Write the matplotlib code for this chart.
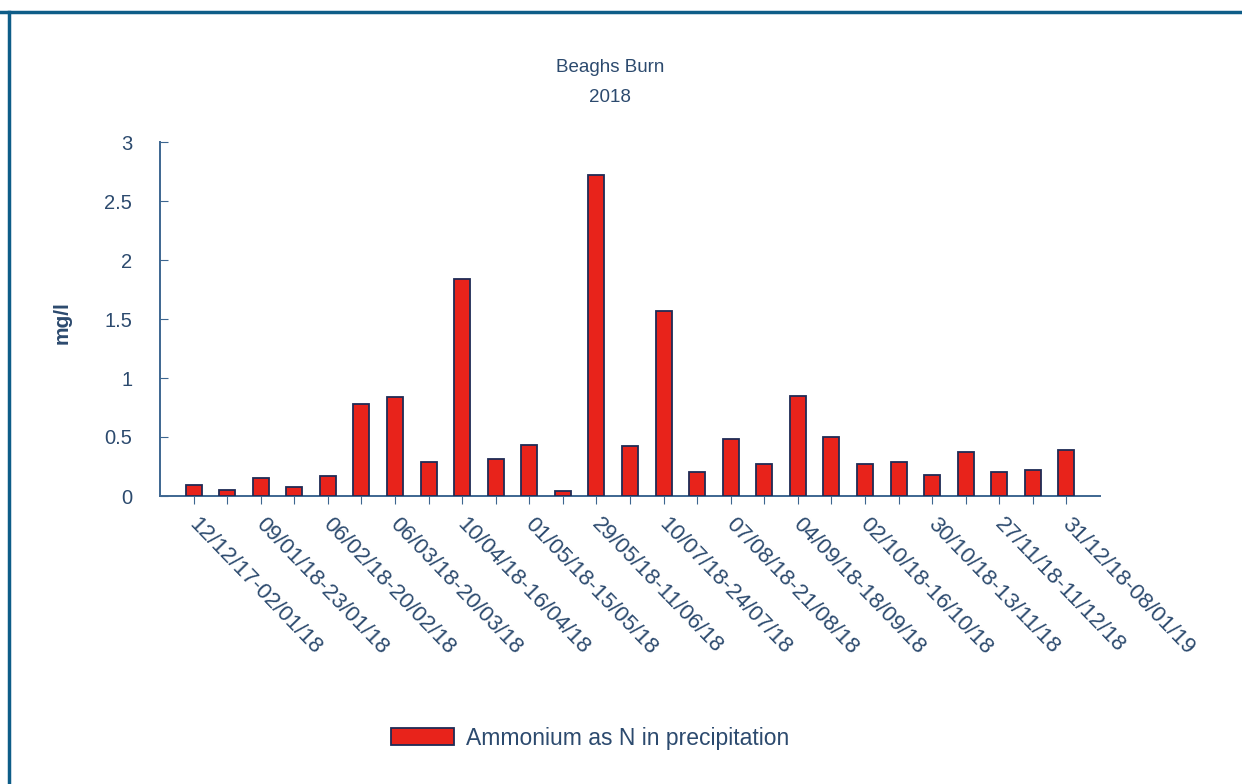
import matplotlib
matplotlib.use("Agg")
import matplotlib.pyplot as plt
from matplotlib.patches import Patch
from matplotlib.lines import Line2D
from matplotlib.transforms import ScaledTranslation

plt.rcParams['font.family'] = ['Liberation Sans', 'DejaVu Sans']

title = "Beaghs Burn\n2018"
ylabel = "mg/l"
series_name = "Ammonium as N in precipitation"
values = [0.09, 0.05, 0.15, 0.076, 0.17, 0.78, 0.84, 0.29, 1.84, 0.31,
          0.43, 0.04, 2.72, 0.42, 1.57, 0.20, 0.48, 0.27, 0.85, 0.50,
          0.27, 0.29, 0.18, 0.37, 0.20, 0.22, 0.39]
tick_labels = ["12/12/17-02/01/18", "09/01/18-23/01/18", "06/02/18-20/02/18",
               "06/03/18-20/03/18", "10/04/18-16/04/18", "01/05/18-15/05/18",
               "29/05/18-11/06/18", "10/07/18-24/07/18", "07/08/18-21/08/18",
               "04/09/18-18/09/18", "02/10/18-16/10/18", "30/10/18-13/11/18",
               "27/11/18-11/12/18", "31/12/18-08/01/19"]
yticks = [0, 0.5, 1, 1.5, 2, 2.5, 3]

text_col = "#2c4a6e"
axis_col = "#3d6690"
bar_col = "#e8231b"
edge_col = "#1f2b55"

fig = plt.figure(figsize=(12.42, 7.84), dpi=100)
W, H = 1242, 784
ax = fig.add_axes([160 / W, 1 - 496 / H, (1100 - 160) / W, (496 - 142) / H])

x = list(range(len(values)))
ax.bar(x, values, width=0.48, color=bar_col, edgecolor=edge_col, linewidth=1.3, zorder=3)

ax.set_xlim(-1, len(values))
ax.set_ylim(0, 3)
ax.set_yticks(yticks)
ax.set_yticklabels([f"{v:g}" for v in yticks], fontsize=14.5, color=text_col)
ax.set_xticks(x)
ax.set_xticklabels([""] * len(x))

# rotated category labels on every other bar, slightly offset right of the tick
label_tr = ax.get_xaxis_transform() + ScaledTranslation(6 / 100, -18 / 100, fig.dpi_scale_trans)
for k, lab in enumerate(tick_labels):
    ax.text(x[2 * k], 0, lab, transform=label_tr, rotation=-46, ha='left', va='top',
            rotation_mode='anchor', fontsize=16, color=text_col)

for s in ['top', 'right']:
    ax.spines[s].set_visible(False)
for s in ['left', 'bottom']:
    ax.spines[s].set_color(axis_col)
    ax.spines[s].set_linewidth(1.4)

ax.tick_params(axis='y', direction='in', length=6, color=axis_col, pad=20)
ax.tick_params(axis='x', direction='out', length=6, color=axis_col, pad=6)

ax.set_ylabel(ylabel, fontsize=15, color=text_col, fontweight='semibold')
ax.yaxis.set_label_coords(-88 / 940, 0.49)

fig.text(610 / W, 1 - 68 / H, "Beaghs Burn", ha='center', va='center', fontsize=13.5, color=text_col)
fig.text(610 / W, 1 - 97 / H, "2018", ha='center', va='center', fontsize=13.5, color=text_col)

handle = Patch(facecolor=bar_col, edgecolor=edge_col, linewidth=1.3)
fig.legend([handle], [series_name], loc='center', bbox_to_anchor=(590 / W, 1 - 738 / H),
           frameon=False, fontsize=16.5, handlelength=2.75, handleheight=0.7,
           labelcolor=text_col, handletextpad=0.55)

# figure frame (top and left)
fig.add_artist(Line2D([0, 1], [1 - 11.5 / H, 1 - 11.5 / H], transform=fig.transFigure,
                      color="#0e5d88", linewidth=2.5))
fig.add_artist(Line2D([8.5 / W, 8.5 / W], [0, 1 - 11.5 / H], transform=fig.transFigure,
                      color="#0e5d88", linewidth=2.5))

fig.savefig("out.png", dpi=100)
